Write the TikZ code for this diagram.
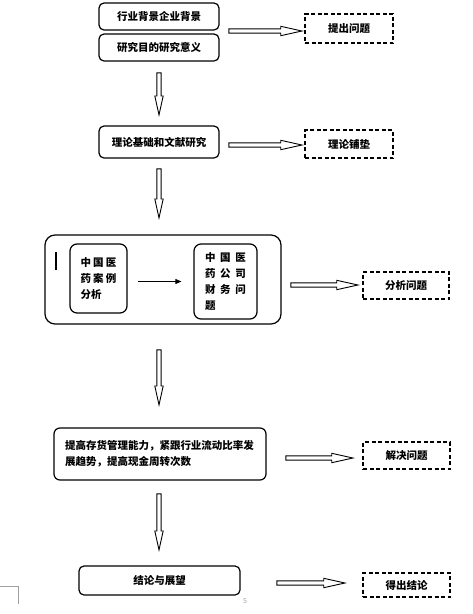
\documentclass[tikz,border=0pt]{standalone}
\usepackage{fontspec}
\setmainfont{Noto Sans CJK SC}
\usepackage{xcolor}
\definecolor{pagegrey}{RGB}{160,160,160}
\usepackage{tikz}
\usetikzlibrary{shapes.arrows,arrows.meta,positioning,calc}

\begin{document}
\begin{tikzpicture}
[	x=1pt, y=-1pt,
	font=\fontsize{10.5}{16}\selectfont\bfseries,
	box/.style={draw, rounded corners=5pt, line width=1.2pt, minimum width=120pt, minimum height=27pt, inner sep=2pt},
	qbox/.style={draw, dash pattern=on 4pt off 2.5pt, line width=1.2pt, minimum width=87pt, minimum height=27pt, inner sep=2pt},
	bigbox/.style={draw, rounded corners=10pt, line width=1.2pt, minimum width=236pt, minimum height=89pt},
	inbox/.style={draw, rounded corners=7pt, line width=1.2pt, align=left, inner sep=2pt},
	rarrow/.style={single arrow, draw, line width=0.9pt, inner xsep=0pt, inner ysep=1.65pt, single arrow head extend=2.6pt, single arrow tip angle=25, anchor=tip},
	darrow/.style={rarrow, single arrow head extend=2.1pt, rotate=-90}
]
\useasboundingbox (0,0) rectangle (472,614);

% step 1: background
\node(bg1)[box] at (159,16.5){行业背景企业背景};
\node(bg2)[box] at (159,47.5){研究目的研究意义};
\node(q1)[qbox, minimum width=88pt, minimum height=29pt] at (349,28.5){提出问题};
\node(r1)[rarrow, minimum height=73pt] at (304,31){};
\node(d1)[darrow, minimum height=42pt] at (159,117){};

% step 2: theory
\node(th)[box, minimum height=32pt] at (159,142){理论基础和文献研究};
\node(q2)[qbox, minimum width=88pt, minimum height=28pt] at (349,144){理论铺垫};
\node(r2)[rarrow, minimum height=73pt] at (304,145){};
\node(d2)[darrow, minimum height=49pt] at (159,220){};

% step 3: case analysis
\node(outer)[bigbox] at (163,279.5){};
\node(case1)[inbox, text width=36pt, minimum width=57pt, minimum height=69pt] at (98.5,278.5){中\hfill 国\hfill 医\\药\hfill 案\hfill 例\\分析};
\node(case2)[inbox, text width=41pt, minimum width=63pt, minimum height=75pt] at (225.5,281.5){中\hfill 国\hfill 医\\药\hfill 公\hfill 司\\财\hfill 务\hfill 问\\题};
\draw[line width=0.8pt, -{Triangle[length=6pt,width=5pt]}, shorten <=10pt, shorten >=12pt](case1.east |- case2)--(case2.west);
\draw[line width=1.3pt](56,252)--(56,270);
\node(q3)[qbox, minimum width=86pt] at (406,285.5){分析问题};
\node(r3)[rarrow, minimum height=67pt] at (360,285){};
\node(d3)[darrow, minimum height=55pt] at (159,407){};

% step 4: measures
\node(fix)[box, text width=190pt, align=left, minimum width=212pt, minimum height=52pt, rounded corners=6pt] at (160,454){提高存货管理能力，紧跟行业流动比率发\\展趋势，提高现金周转次数};
\node(q4)[qbox] at (406.5,455.5){解决问题};
\node(r4)[rarrow, minimum height=67pt] at (355,458){};
\node(d4)[darrow, minimum height=56pt] at (159,552){};

% step 5: conclusion
\node(end)[box, minimum width=161pt, minimum height=29pt] at (159.5,580.5){结论与展望};
\node(q5)[qbox, minimum height=24pt] at (406.5,585){得出结论};
\node(r5)[rarrow, minimum height=68pt] at (347,583){};

% page number and corner mark
\node(pgnum)[font=\fontsize{7}{8}\selectfont, text=pagegrey] at (245,601){5};
\draw[pagegrey, line width=0.4pt](0,586)--(18,586)--(18,604);

\end{tikzpicture}
\end{document}
